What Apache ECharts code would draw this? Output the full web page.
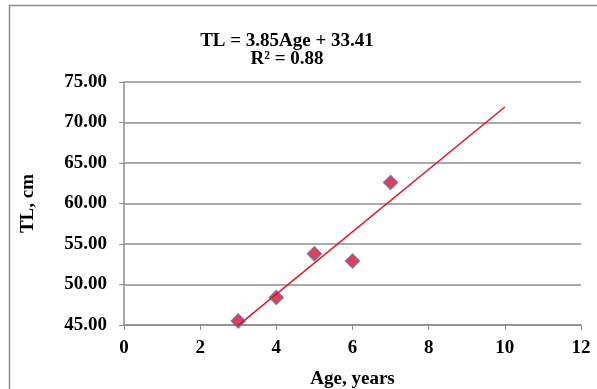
<!DOCTYPE html>
<html>
<head>
<meta charset="utf-8">
<script src="https://cdn.jsdelivr.net/npm/echarts@6/dist/echarts.min.js"></script>
<style>html,body{margin:0;padding:0;background:#fff}#c{width:597px;height:389px}</style>
</head>
<body>
<div id="c"></div>
<script>
const ageYears = [3, 4, 5, 6, 7];
const totalLength = [45.5, 48.4, 53.8, 52.9, 62.6];
const trendAge = [3, 10];
const trendTL = [44.96, 71.91];
const xTicks = [0, 2, 4, 6, 8, 10, 12];
const yTicks = [45, 50, 55, 60, 65, 70, 75];
const equationText = 'TL = 3.85Age + 33.41';
const r2Text = 'R\u00B2 = 0.88';

const font = '"Liberation Serif", "Times New Roman", serif';
const chart = echarts.init(document.getElementById('c'));
chart.setOption({
  animation: false,
  backgroundColor: '#fff',
  textStyle: { fontFamily: font },
  title: {
    text: equationText + '\n' + r2Text,
    left: 282, top: 27, textAlign: 'center',
    textStyle: { fontFamily: font, fontWeight: 'bold', fontSize: 19, lineHeight: 18, color: '#000' }
  },
  graphic: [{
    type: 'rect', shape: { x: 9.5, y: 5.5, width: 600, height: 400 },
    style: { fill: null, stroke: '#8c8c8c', lineWidth: 1.5 }, silent: true, z: -1
  }],
  grid: { left: 124, top: 82, right: 16, bottom: 64, containLabel: false, outerBoundsMode: 'none' },
  xAxis: {
    type: 'value', min: xTicks[0], max: xTicks[xTicks.length - 1], interval: 2,
    name: 'Age, years', nameLocation: 'middle', nameGap: 45,
    nameTextStyle: { fontFamily: font, fontWeight: 'bold', fontSize: 19, color: '#000' },
    axisLine: { show: true, lineStyle: { color: '#8c8c8c', width: 1.5 } },
    axisTick: { show: true, length: 5, inside: false, lineStyle: { color: '#8c8c8c' } },
    axisLabel: { fontFamily: font, fontWeight: 'bold', fontSize: 19, color: '#000', margin: 14 },
    splitLine: { show: false }
  },
  yAxis: {
    type: 'value', min: yTicks[0], max: yTicks[yTicks.length - 1], interval: 5,
    name: 'TL, cm', nameLocation: 'middle', nameGap: 86, nameRotate: 90,
    nameTextStyle: { fontFamily: font, fontWeight: 'bold', fontSize: 19, color: '#000' },
    axisLine: { show: true, lineStyle: { color: '#8c8c8c', width: 1.5 } },
    axisTick: { show: true, length: 5, lineStyle: { color: '#8c8c8c' } },
    axisLabel: { fontFamily: font, fontWeight: 'bold', fontSize: 19, color: '#000', margin: 17,
      formatter: v => v.toFixed(2) },
    splitLine: { show: true, lineStyle: { color: '#8c8c8c', width: 1.5 } }
  },
  series: [
    {
      type: 'line', data: trendAge.map((x, i) => [x, trendTL[i]]),
      symbol: 'none', lineStyle: { color: '#e8141e', width: 1.5 }, z: 2
    },
    {
      type: 'scatter', data: ageYears.map((x, i) => [x, totalLength[i]]),
      symbol: 'diamond', symbolSize: 14,
      itemStyle: { color: '#d6102a', borderColor: '#6a6ab0', borderWidth: 1.5 }, z: 3
    }
  ]
});
</script>
</body>
</html>
